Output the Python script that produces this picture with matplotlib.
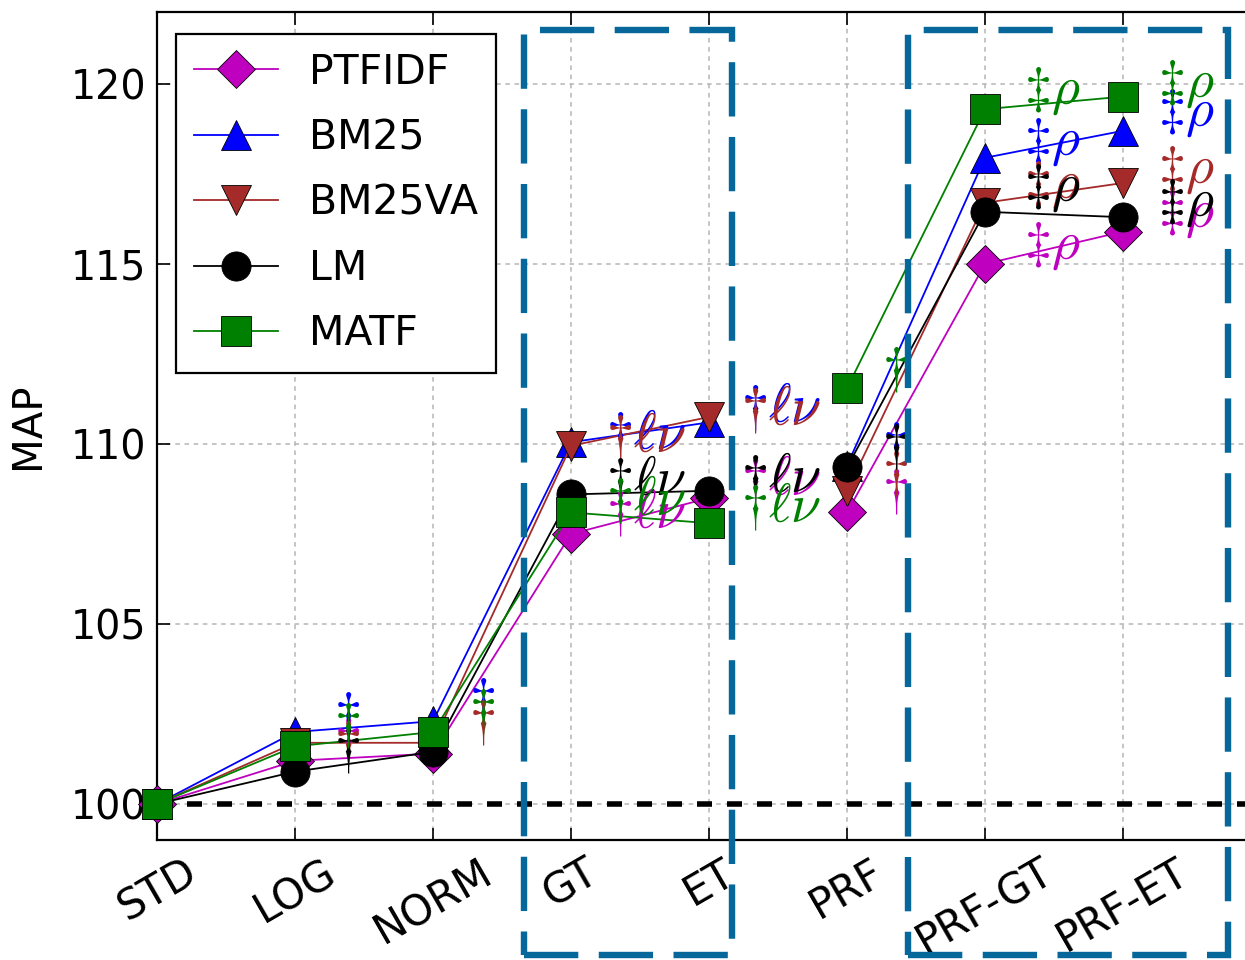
import matplotlib
matplotlib.use("Agg")
import matplotlib.pyplot as plt
from matplotlib.patches import Rectangle

categories = ["STD", "LOG", "NORM", "GT", "ET", "PRF", "PRF-GT", "PRF-ET"]
methods = ["PTFIDF", "BM25", "BM25VA", "LM", "MATF"]

ptfidf = [100.0, 101.2, 101.4, 107.5, 108.5, 108.1, 115.0, 115.9]
bm25   = [100.0, 102.0, 102.3, 110.05, 110.6, 109.4, 117.95, 118.7]
bm25va = [100.0, 101.7, 101.7, 109.95, 110.75, 108.7, 116.7, 117.25]
lm     = [100.0, 100.9, 101.45, 108.6, 108.7, 109.35, 116.45, 116.3]
matf   = [100.0, 101.6, 102.0, 108.1, 107.8, 111.55, 119.3, 119.65]

series = [ptfidf, bm25, bm25va, lm, matf]
colors = ["m", "b", "brown", "k", "g"]
markers = ["D", "^", "v", "o", "s"]

# two connected groups of categories
groups = [(0, 5), (5, 8)]

# significance annotations
ann_x = [1.28, 2.26, 3.25, 4.23, 5.25, 6.28, 7.25]
ann_text = ["$\\dagger$", "$\\dagger$", "$\\dagger\\ell\\nu$", "$\\dagger\\ell\\nu$",
            "$\\dagger$", "$\\ddagger\\rho$", "$\\ddagger\\rho$"]
ann_y_ptfidf = [101.8, None, 108.1, 109.0, 108.7, 115.5, 116.4]
ann_y_bm25   = [102.5, 102.9, 110.3, 111.05, 110.0, 118.4, 119.2]
ann_y_bm25va = [101.7, 102.3, 110.2, 110.95, 109.2, 117.2, 117.6]
ann_y_lm     = [101.5, None, 109.0, 109.1, 109.95, 117.1, 116.7]
ann_y_matf   = [102.2, 102.6, 108.45, 108.25, 112.1, 119.8, 120.0]
ann_ys = [ann_y_ptfidf, ann_y_bm25, ann_y_bm25va, ann_y_lm, ann_y_matf]

plt.rcParams["mathtext.fontset"] = "cm"
plt.rcParams["font.family"] = "DejaVu Sans"

fig = plt.figure(figsize=(12.45, 9.6), dpi=100)
ax = fig.add_axes([157 / 1245, 120 / 960, 1104 / 1245, 828 / 960])

x = list(range(len(categories)))
ax.axhline(100, color="k", lw=4, linestyle=(0, (2.7, 2.7)), zorder=2.6)

for vals, c, m, name in zip(series, colors, markers, methods):
    for gi, (a, b) in enumerate(groups):
        ax.plot(x[a:b], vals[a:b], color=c, marker=m,
                markersize=21 if m != "D" else 19,
                markeredgecolor="k", markeredgewidth=0.6, lw=1.3,
                label=name if gi == 0 else None, zorder=3, clip_on=False)

for vals_y, c in zip(ann_ys, colors):
    for xi, yi, t in zip(ann_x, vals_y, ann_text):
        if yi is None:
            continue
        ax.text(xi, yi, t, color=c, fontsize=39, ha="left", va="center",
                zorder=4)

ax.set_xlim(0, 8)
ax.set_ylim(99, 122)
ax.set_yticks([100, 105, 110, 115, 120])
ax.set_xticks(x)
ax.set_xticklabels(categories, rotation=30, ha="center")
ax.tick_params(axis="both", which="major", direction="in", length=9, width=1.2,
               top=True, right=True, pad=8)
ax.tick_params(axis="x", labelsize=30)
ax.tick_params(axis="y", labelsize=28.5)
ax.set_ylabel("MAP", fontsize=29, labelpad=16)
ax.grid(True, color="#b5b5b5", linestyle=(0, (3, 3)), lw=1.1)
for sp in ax.spines.values():
    sp.set_linewidth(1.6)

leg = ax.legend(loc="upper left", bbox_to_anchor=(0.017, 0.973), fontsize=29.5,
                numpoints=1, handlelength=2.05, labelspacing=0.62,
                borderpad=0.45, handletextpad=0.75, fancybox=False,
                framealpha=1, edgecolor="k", borderaxespad=0)
leg.get_frame().set_linewidth(1.6)

box_color = "#05679a"
box_style = dict(fill=False, edgecolor=box_color, lw=4.6,
                 linestyle=(0, (8.5, 3.2)), clip_on=False, zorder=5)
ax.add_patch(Rectangle((2.66, 95.8), 1.51, 25.7, **box_style))
ax.add_patch(Rectangle((5.44, 95.8), 2.32, 25.7, **box_style))

fig.savefig("out.png", dpi=100)
